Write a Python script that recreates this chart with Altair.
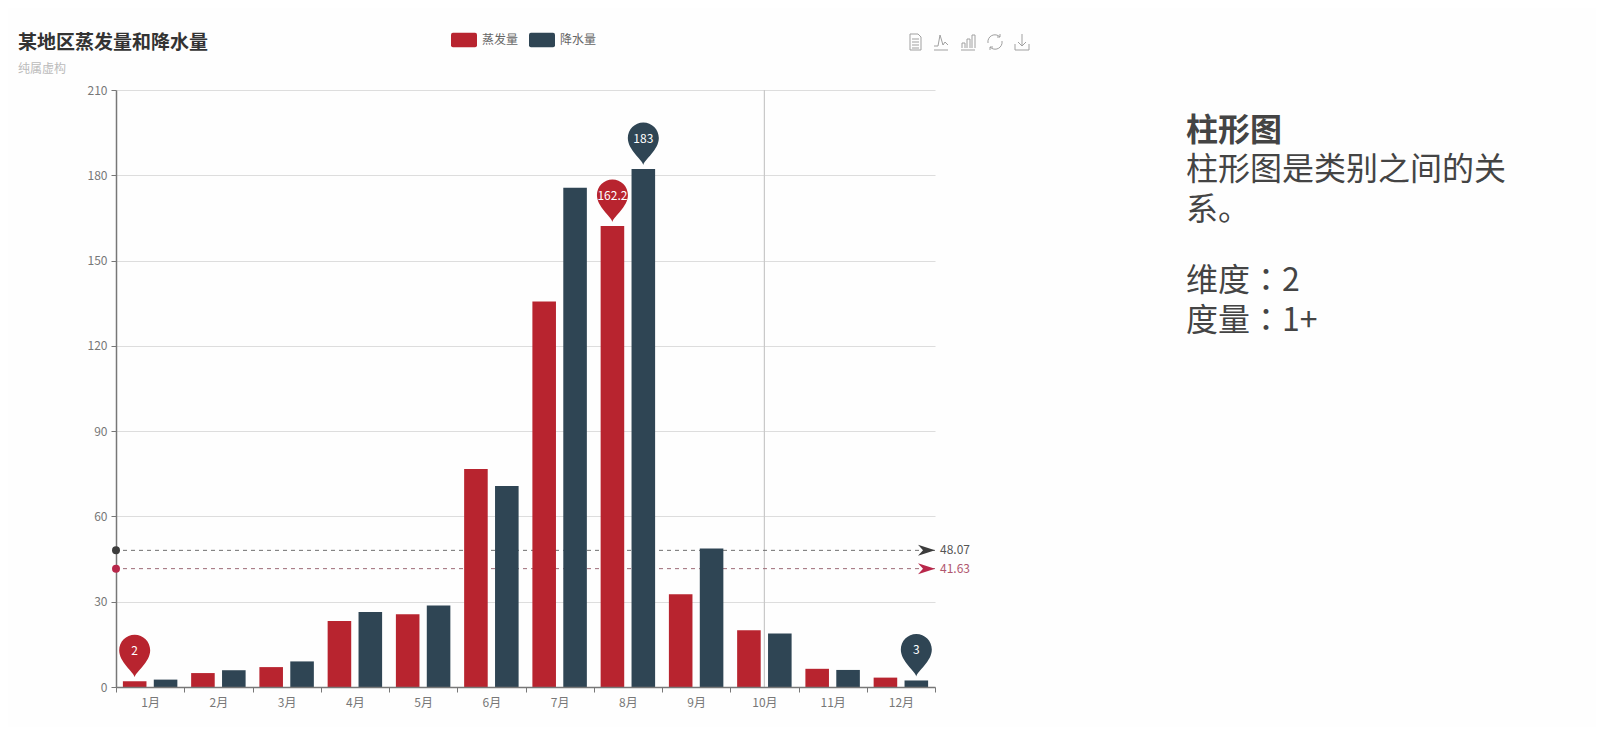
import altair as alt
import pandas as pd

months = ["1月", "2月", "3月", "4月", "5月", "6月", "7月", "8月", "9月", "10月", "11月", "12月"]
evaporation = [2.0, 4.9, 7.0, 23.2, 25.6, 76.7, 135.6, 162.2, 32.6, 20.0, 6.4, 3.3]
precipitation = [2.6, 5.9, 9.0, 26.4, 28.7, 70.7, 175.6, 182.2, 48.7, 18.8, 6.0, 2.3]
series_names = ["蒸发量", "降水量"]
series_colors = ["#B8242F", "#2F4554"]
mean_values = [41.63, 48.07]
mean_labels = ["41.63", "48.07"]
mean_line_colors = ["#9C6A76", "#6E6E6E"]
mean_mark_colors = ["#B8274A", "#3C3C3C"]
mean_text_colors = ["#B0566E", "#555555"]
pin_months = [["1月", "8月"], ["12月", "8月"]]
pin_values = [[2.0, 162.2], [2.3, 182.2]]
pin_labels = [["2", "162.2"], ["3", "183"]]
y_ticks = [0, 30, 60, 90, 120, 150, 180, 210]
pointer_month = ["10月"]
side_lines = [("柱形图", "bold", "Noto Sans CJK SC"),
              ("柱形图是类别之间的关", "normal", "Noto Sans CJK SC"),
              ("系。", "normal", "Noto Sans CJK SC"),
              ("维度：2", "normal", "Noto Sans CJK TC"),
              ("度量：1+", "normal", "Noto Sans CJK TC")]

FONT = "Noto Sans CJK SC"
W, H = 819, 597
L, T = 116, 90

PIN = "M0,-4 C-1.5,-10 -15.5,-19 -15.5,-31 A15.5,15.5 0 1 1 15.5,-31 C15.5,-19 1.5,-10 0,-4 Z"
ARROW = "M0,0 L-17,-5.5 L-12,0 L-17,5.5 Z"
SWATCH = "M-0.85,-0.55 H0.85 Q1,-0.55 1,-0.4 V0.4 Q1,0.55 0.85,0.55 H-0.85 Q-1,0.55 -1,0.4 V-0.4 Q-1,-0.55 -0.85,-0.55 Z"
ICONS = [
    "M-5,-8 H3 L6,-5 V8 H-5 Z M-3,-3 H4 M-3,0 H4 M-3,3 H4 M-3,6 H4",
    "M-7,8 H7 M-7,4 L-3,4 L-1,-7 L2,3 L4,0 L7,3",
    "M-7,8 H7 M-6,6 V1 H-3 V6 M-1,6 V-3 H2 V6 M4,6 V-7 H7 V6",
    "M-7,1 A7,7 0 0 1 5,-5 M7,-1 A7,7 0 0 1 -5,5 M5,-8 V-5 H2 M-5,8 V5 H-2",
    "M-7,2 V8 H7 V2 M0,-8 V4 M-4,0 L0,4 L4,0",
]
ICON_CENTERS = [915, 941, 968, 995, 1022]

x_scale = alt.Scale(domain=months, paddingInner=0, paddingOuter=0)
y_scale = alt.Scale(domain=[0, 210], nice=False)
off_scale = alt.Scale(domain=series_names, paddingInner=0.237, paddingOuter=0.223)
col_scale = alt.Scale(domain=series_names, range=series_colors)

X = alt.X("month:N", scale=x_scale, sort=months, title=None, axis=alt.Axis(
    labelAngle=0, labelFont=FONT, labelFontSize=12, labelColor="#777777", tickBand="extent",
    tickColor="#777777", domainColor="#777777", domainWidth=1.5, tickSize=5, labelPadding=5,
    grid=False, zindex=1))
Y = alt.Y("value:Q", scale=y_scale, title=None, axis=alt.Axis(
    values=y_ticks, labelFont=FONT, labelFontSize=12, labelColor="#777777", tickColor="#777777",
    domainColor="#777777", domainWidth=1.5, tickSize=5, labelPadding=4, gridColor="#DDDDDD",
    gridWidth=1, zindex=0))
Off = alt.XOffset("series:N", scale=off_scale)


def series_frame(values, name):
    return pd.DataFrame({"month": months, "value": values, "series": name})


def bars(values, name, legend):
    return alt.Chart(series_frame(values, name)).mark_bar(strokeWidth=0).encode(
        x=X, y=Y, xOffset=Off,
        color=alt.Color("series:N", scale=col_scale, legend=legend))


def pins(i):
    frame = pd.DataFrame({"month": pin_months[i], "value": pin_values[i],
                          "label": pin_labels[i], "series": series_names[i]})
    shape = alt.Chart(frame).mark_point(shape=PIN, size=4, filled=True, opacity=1,
                                        color=series_colors[i], strokeWidth=0).encode(
        x=X, y=Y, xOffset=Off)
    label = alt.Chart(frame).mark_text(font=FONT, fontSize=12, color="#FFFFFF", dy=-30).encode(
        x=X, y=Y, xOffset=Off, text="label:N")
    return shape + label


legend = alt.Legend(orient="none", legendX=335, legendY=-58, direction="horizontal", columns=2,
                    title=None, symbolType=SWATCH, symbolSize=676, symbolStrokeWidth=0,
                    symbolOpacity=1, labelFont=FONT, labelFontSize=12, labelColor="#666666",
                    labelOffset=5, columnPadding=10, padding=0, clipHeight=16)

layers = []

# Axis pointer
layers.append(alt.Chart(pd.DataFrame({"month": pointer_month})).mark_rule(
    color="#C8C8C8", strokeWidth=1.2).encode(x=X))

# Average lines, circles, arrows and labels
for i in range(2):
    f = pd.DataFrame({"value": [mean_values[i]], "label": [mean_labels[i]]})
    layers.append(alt.Chart(f).mark_rule(color=mean_line_colors[i], strokeDash=[4, 4],
                                         strokeWidth=1).encode(y=Y))

layers.append(bars(evaporation, series_names[0], legend))
layers.append(pins(0))
layers.append(bars(precipitation, series_names[1], None))
layers.append(pins(1))

for i in range(2):
    f = pd.DataFrame({"value": [mean_values[i]], "label": [mean_labels[i]]})
    layers.append(alt.Chart(f).mark_point(shape="circle", size=64, filled=True, opacity=1,
                                          color=mean_mark_colors[i], strokeWidth=0).encode(
        x=alt.value(0), y=Y))
    layers.append(alt.Chart(f).mark_point(shape=ARROW, size=4, filled=True, opacity=1,
                                          color=mean_mark_colors[i], strokeWidth=0).encode(
        x=alt.value(W), y=Y))
    layers.append(alt.Chart(f).mark_text(font=FONT, fontSize=12, align="left", dx=5,
                                         color=mean_text_colors[i]).encode(
        x=alt.value(W), y=Y, text="label:N"))

# Toolbox icons
for path, cx in zip(ICONS, ICON_CENTERS):
    layers.append(alt.Chart(pd.DataFrame({"k": [0]})).mark_point(
        shape=path, size=4, filled=False, opacity=1, color="#A0A0A0", strokeWidth=1).encode(
        x=alt.value(cx - L), y=alt.value(42 - T)))

# Side note
side_y = [131, 170, 210, 281, 321]
for (text, weight, fam), yy in zip(side_lines, side_y):
    layers.append(alt.Chart(pd.DataFrame({"t": [text]})).mark_text(
        font=fam, fontSize=32, fontWeight=weight, align="left", baseline="middle",
        color="#444444").encode(x=alt.value(1186 - L), y=alt.value(yy - T), text="t:N"))

chart = alt.layer(*layers).resolve_scale(x="shared", y="shared", color="shared").properties(
    width=W, height=H,
    title=alt.TitleParams(
        text="某地区蒸发量和降水量", subtitle="纯属虚构", anchor="start", frame="group",
        font=FONT, fontSize=19, fontWeight="bold", color="#333333",
        subtitleFont=FONT, subtitleFontSize=12, subtitleColor="#BBBBBB", subtitlePadding=11,
        dx=-98, offset=-43),
    autosize=alt.AutoSizeParams(type="none"),
    padding={"left": L - 8, "top": T - 8, "right": 1604 - 16 - (L - 8) - W, "bottom": 40},
    background="#FEFEFE",
).configure_view(stroke=None)

chart.save("out.html", embed_options={"renderer": "svg", "actions": False})
